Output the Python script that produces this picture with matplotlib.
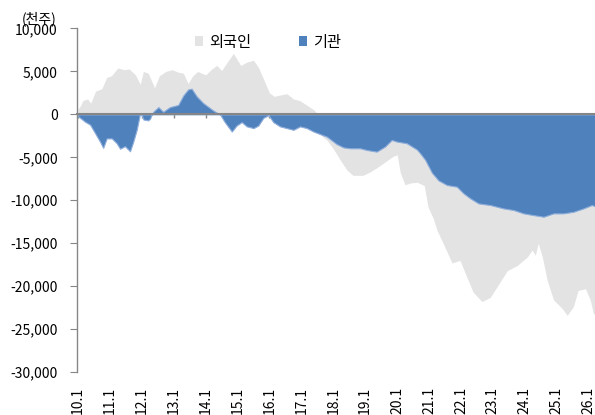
import matplotlib
matplotlib.use("Agg")
import matplotlib.pyplot as plt
from matplotlib.patches import Patch
from matplotlib.ticker import FuncFormatter, FixedLocator

plt.rcParams['font.family'] = ['Noto Sans CJK KR', 'DejaVu Sans']

# ---- data ----
foreign_t = [2010.0, 2010.08, 2010.15, 2010.3, 2010.4, 2010.55, 2010.75, 2010.9, 2011.05, 2011.25,
             2011.45, 2011.6, 2011.8, 2011.95, 2012.05, 2012.2, 2012.4, 2012.55, 2012.75, 2012.95,
             2013.15, 2013.3, 2013.45, 2013.6, 2013.75, 2014.0, 2014.2, 2014.35, 2014.5, 2014.7,
             2014.87, 2015.0, 2015.1, 2015.3, 2015.5, 2015.65, 2015.85, 2016.0, 2016.15, 2016.4,
             2016.55, 2016.75, 2016.95, 2017.2, 2017.4, 2017.52, 2017.6, 2017.8, 2018.0, 2018.2,
             2018.43, 2018.62, 2018.93, 2019.15, 2019.37, 2019.56, 2019.87, 2020.0, 2020.1, 2020.25,
             2020.4, 2020.63, 2020.85, 2020.97, 2021.13, 2021.25, 2021.44, 2021.72, 2021.97, 2022.19,
             2022.38, 2022.66, 2022.92, 2023.23, 2023.45, 2023.76, 2024.08, 2024.23, 2024.33, 2024.42,
             2024.55, 2024.7, 2024.9, 2025.17, 2025.33, 2025.52, 2025.67, 2025.9, 2026.05, 2026.15,
             2026.2]
foreign = [600, 1000, 1600, 1800, 1300, 2700, 3000, 4300, 4500, 5400,
           5200, 5300, 4600, 3500, 5000, 4800, 3100, 4500, 5000, 5200,
           4900, 4800, 3600, 4500, 5000, 4600, 5300, 5700, 5100, 6200,
           7100, 6300, 5700, 6100, 6300, 5500, 3800, 2500, 2100, 2300,
           2400, 1800, 1600, 1000, 500, 0, -2400, -3000, -4000, -5200,
           -6500, -7100, -7100, -6700, -6200, -5700, -4900, -4700, -6800, -8200,
           -8000, -7900, -8300, -10800, -12100, -13500, -15000, -17300, -17000, -19000,
           -20700, -21800, -21300, -19500, -18200, -17600, -16600, -15800, -16400, -15000,
           -16600, -19300, -21600, -22600, -23400, -22400, -20500, -20300, -21600, -23200,
           -23300]

inst_t = [2010.0, 2010.1, 2010.22, 2010.38, 2010.53, 2010.69, 2010.79, 2010.9, 2011.06, 2011.21,
          2011.32, 2011.47, 2011.63, 2011.73, 2011.84, 2011.94, 2012.0, 2012.05, 2012.2, 2012.26,
          2012.31, 2012.36, 2012.52, 2012.67, 2012.88, 2013.14, 2013.3, 2013.45, 2013.56, 2013.72,
          2013.93, 2014.24, 2014.45, 2014.6, 2014.82, 2014.97, 2015.13, 2015.29, 2015.5, 2015.65,
          2015.81, 2015.97, 2016.12, 2016.33, 2016.54, 2016.75, 2016.96, 2017.17, 2017.38, 2017.59,
          2017.8, 2018.1, 2018.32, 2018.53, 2018.84, 2019.05, 2019.36, 2019.62, 2019.83, 2019.99,
          2020.3, 2020.62, 2020.72, 2020.88, 2021.09, 2021.3, 2021.56, 2021.87, 2022.08, 2022.29,
          2022.55, 2022.92, 2023.33, 2023.65, 2023.96, 2024.27, 2024.59, 2024.9, 2025.21, 2025.53,
          2025.84, 2026.1, 2026.2]
inst = [-200, -500, -850, -1200, -2150, -3170, -3900, -2800, -2800, -3350,
        -4000, -3700, -4300, -3200, -1800, 0, -100, -600, -700, -500,
        0, 300, 850, 300, 850, 1100, 2200, 2900, 3000, 2100,
        1300, 450, 0, -900, -2000, -1300, -900, -1400, -1600, -1300,
        -400, -100, -900, -1400, -1600, -1800, -1400, -1600, -2000, -2300,
        -2600, -3450, -3850, -3950, -3950, -4150, -4340, -3750, -2980, -3170,
        -3360, -4100, -4530, -5300, -6800, -7700, -8230, -8420, -9200, -9780,
        -10370, -10560, -10950, -11140, -11530, -11730, -11920, -11530, -11530, -11340,
        -10950, -10560, -10700]

year_ticks = list(range(2010, 2027))
year_labels = ["10.1", "11.1", "12.1", "13.1", "14.1", "15.1", "16.1", "17.1", "18.1",
               "19.1", "20.1", "21.1", "22.1", "23.1", "24.1", "25.1", "26.1"]
series_names = ["외국인", "기관"]

# ---- plot ----
GRAY = "#e3e3e3"
BLUE = "#4f81bd"
AXC = "#868686"

fig = plt.figure(figsize=(5.95, 4.15), dpi=100)
ax = fig.add_axes([77 / 595, 1 - 372 / 415, 1 - 77 / 595, (372 - 28.5) / 415])

ax.fill_between(foreign_t, foreign, 0, color=GRAY, linewidth=0, zorder=1)
ax.fill_between(inst_t, inst, 0, facecolor=BLUE, edgecolor="#8eaedb", linewidth=0.8, zorder=2)

ax.set_xlim(2009.97, 2026.2)
ax.set_ylim(-30000, 10000)
ax.set_yticks(range(-30000, 10001, 5000))
ax.yaxis.set_major_formatter(FuncFormatter(lambda v, p: f"{int(v):,}"))
ax.tick_params(axis='y', direction='out', length=5, color=AXC, pad=9, labelsize=10)

for s in ['top', 'right']:
    ax.spines[s].set_visible(False)
ax.spines['left'].set_color(AXC)
ax.spines['left'].set_linewidth(1.0)
ax.spines['bottom'].set_position(('data', 0))
ax.spines['bottom'].set_color(AXC)
ax.spines['bottom'].set_linewidth(1.5)
ax.spines['bottom'].set_zorder(5)

ax.xaxis.set_major_locator(FixedLocator(year_ticks))
ax.tick_params(axis='x', direction='out', length=3, color=AXC, width=1, labelbottom=False)

sec = ax.secondary_xaxis(0.0)
sec.set_xticks(year_ticks)
sec.set_xticklabels(year_labels, rotation=90, fontsize=10)
sec.tick_params(axis='x', length=0, pad=11)
sec.spines['bottom'].set_visible(False)

fig.text(22 / 595, 1 - 19 / 415, "(천주)", fontsize=10, ha='left', va='center')

handles = [Patch(facecolor=GRAY, edgecolor='none'), Patch(facecolor=BLUE, edgecolor='none')]
fig.legend(handles, series_names, loc='center left', bbox_to_anchor=(195 / 595, 1 - 42 / 415),
           ncol=2, frameon=False, fontsize=11, handlelength=0.55, handleheight=0.55,
           handletextpad=0.4, columnspacing=3.1, borderpad=0, borderaxespad=0)

fig.savefig("out.png", dpi=100)
